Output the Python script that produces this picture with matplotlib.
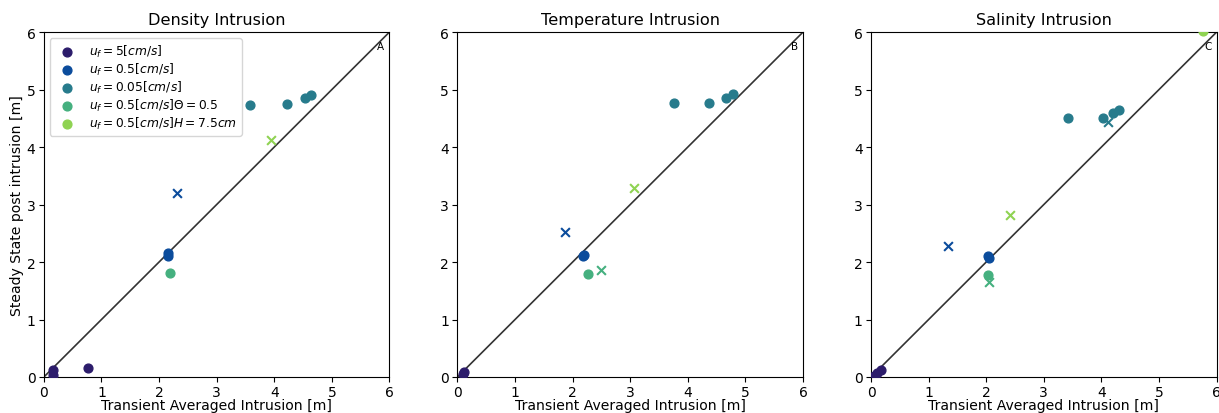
import numpy as np
import matplotlib.pyplot as plt

titles = ["Density Intrusion", "Temperature Intrusion", "Salinity Intrusion"]
tags = ["A", "B", "C"]

labels = [r"$u_f = 5 [cm/s]$", r"$u_f = 0.5 [cm/s]$", r"$u_f = 0.05 [cm/s]$",
          r"$u_f = 0.5 [cm/s] \Theta = 0.5$", r"$u_f = 0.5 [cm/s] H = 7.5cm$"]
colors = ["#2c1c6b", "#0b4c9c", "#277b8c", "#45b07f", "#8fd352"]

# circles (x, y) per panel per series
dens_dot = [
    ([0.15, 0.15, 0.77], [0.12, 0.04, 0.15]),
    ([2.15, 2.16], [2.15, 2.10]),
    ([3.58, 4.23, 4.53, 4.64], [4.74, 4.75, 4.86, 4.90]),
    ([2.19], [1.81]),
    ([], []),
]
dens_x = [
    ([], []),
    ([2.32], [3.20]),
    ([], []),
    ([], []),
    ([3.95], [4.12]),
]
temp_dot = [
    ([0.10, 0.12], [0.05, 0.08]),
    ([2.18, 2.20], [2.10, 2.13]),
    ([3.76, 4.36, 4.67, 4.79], [4.77, 4.76, 4.86, 4.93]),
    ([2.27], [1.80]),
    ([], []),
]
temp_x = [
    ([], []),
    ([1.86], [2.53]),
    ([], []),
    ([2.50], [1.87]),
    ([3.07], [3.28]),
]
sal_dot = [
    ([0.05, 0.10, 0.17], [0.02, 0.07, 0.12]),
    ([2.03, 2.05], [2.10, 2.07]),
    ([3.42, 4.03, 4.20, 4.31], [4.50, 4.50, 4.60, 4.65]),
    ([2.03], [1.77]),
    ([5.77], [6.02]),
]
sal_x = [
    ([], []),
    ([1.33], [2.28]),
    ([4.12], [4.43]),
    ([2.05], [1.66]),
    ([2.41], [2.82]),
]

dots = [dens_dot, temp_dot, sal_dot]
crosses = [dens_x, temp_x, sal_x]

fig, axes = plt.subplots(1, 3, figsize=(12.19, 4.14), dpi=100)
fig.subplots_adjust(left=0.036, right=0.998, bottom=0.087, top=0.92, wspace=0.197)

for i, ax in enumerate(axes):
    ax.plot([0, 6], [0, 6], color="#333333", lw=1.2, zorder=1)
    for j in range(5):
        dx, dy = dots[i][j]
        ax.scatter(dx, dy, color=colors[j], s=40, label=labels[j], zorder=3)
        cx, cy = crosses[i][j]
        ax.scatter(cx, cy, color=colors[j], marker="x", s=40, zorder=3)
    ax.set_xlim(0, 6)
    ax.set_ylim(0, 6)
    ax.set_title(titles[i], fontsize=11.6)
    ax.set_xlabel("Transient Averaged Intrusion [m]", fontsize=10.1, labelpad=-1)
    ax.text(0.985, 0.975, tags[i], transform=ax.transAxes, ha="right", va="top", fontsize=7.5)
    ax.tick_params(labelsize=10, pad=2.5)

axes[0].set_ylabel("Steady State post intrusion [m]", fontsize=10.1, labelpad=2)
axes[0].legend(loc="upper left", fontsize=8.8, labelspacing=0.15, borderpad=0.4)

plt.savefig("out.png")
